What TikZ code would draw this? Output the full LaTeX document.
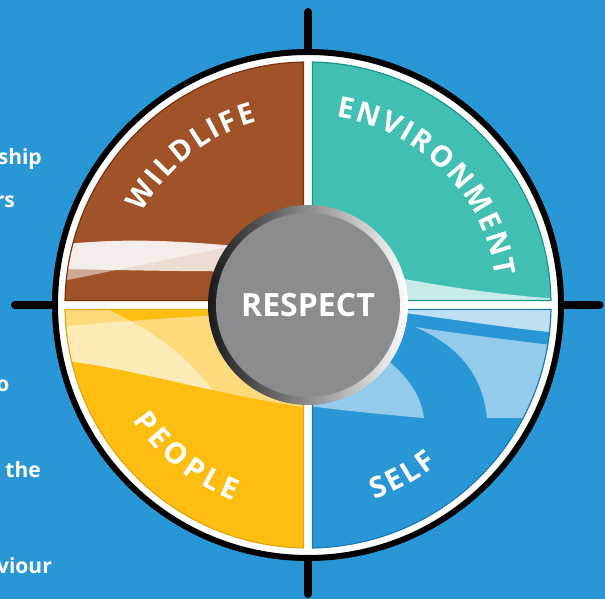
\documentclass[tikz,border=0pt]{standalone}
\usepackage{fontspec}
\setmainfont{Open Sans}
\usetikzlibrary{decorations.text}
\definecolor{bgblue}{RGB}{41,151,213}
\definecolor{wildbrown}{RGB}{160,82,40}
\definecolor{wildedge}{RGB}{120,50,15}
\definecolor{envteal}{RGB}{66,191,179}
\definecolor{envedge}{RGB}{22,150,136}
\definecolor{peopleyellow}{RGB}{253,190,17}
\definecolor{peopleedge}{RGB}{225,165,20}
\definecolor{selfblue}{RGB}{41,151,213}
\definecolor{selfedge}{RGB}{25,120,182}
\definecolor{hubgray}{RGB}{138,141,144}
\newcommand{\labelfont}{\fontsize{29}{29}\selectfont\bfseries}
\newcommand{\hubfont}{\fontsize{32}{32}\selectfont\bfseries}
\newcommand{\sidefont}{\fontsize{21}{21}\selectfont\bfseries}
\newcommand{\quadshape}{(4.5,4.5) -- (242.96,4.5) arc[start angle=1.061, end angle=88.939, radius=243] -- cycle}

\begin{document}
\begin{tikzpicture}[x=1pt, y=1pt,
    axisline/.style={line width=8pt, line cap=round},
    quadedge/.style={line width=1.2pt},
    streak/.style={fill=white, opacity=#1},
    ringlabel/.style={decorate, decoration={text along path, text align=fit to path, text color=white, text={|\labelfont|#1}}},
    sidetext/.style={text=white, font=\sidefont, anchor=base east, inner sep=0pt}
  ]
  \useasboundingbox (-308,-294) rectangle (297,305);
  \fill[bgblue] (-308,-294) rectangle (297,305);

  % cross
  \coordinate (top) at (0,293);
  \coordinate (bottom) at (0,-289);
  \coordinate (left) at (-293,0);
  \coordinate (right) at (291.5,0);
  \draw[axisline] (top) -- (bottom);
  \draw[axisline] (left) -- (right);

  % rim
  \draw[line width=6pt, fill=white] (0,0) circle (253);

  % quadrants
  \fill[envteal] \quadshape;
  \fill[wildbrown, rotate=90] \quadshape;
  \fill[peopleyellow, rotate=180] \quadshape;
  \fill[selfblue, rotate=270] \quadshape;

  % wildlife streaks
  \begin{scope}
    \clip[rotate=90] \quadshape;
    \fill[streak=.8] (-250,60) .. controls (-180,68) and (-120,64) .. (-40,56) -- (-40,34) .. controls (-120,33) and (-180,35) .. (-250,36) -- cycle;
    \fill[streak=.5] (-250,23) -- (-80,58) .. controls (-130,64) and (-190,67) .. (-250,60) -- cycle;
  \end{scope}

  % environment streak
  \begin{scope}
    \clip \quadshape;
    \fill[streak=.7] (60,33) .. controls (110,23) and (170,12) .. (250,6) -- (250,0) -- (60,0) -- cycle;
  \end{scope}

  % people streaks
  \begin{scope}
    \clip[rotate=180] \quadshape;
    \fill[streak=.45] (-250,-22) .. controls (-180,-16) and (-120,-11) .. (-40,-8) -- (0,-8) -- (0,-103) .. controls (-100,-88) and (-180,-62) .. (-250,-55) -- cycle;
    \begin{scope}
      \clip (-260,0) -- (0,0) -- (0,-103) .. controls (-100,-88) and (-180,-62) .. (-250,-55) -- (-260,-55) -- cycle;
      \fill[streak=.45] (-260,0) -- (-210,0) .. controls (-158,-23) and (-113,-54) .. (-86,-100) -- (-260,-100) -- cycle;
    \end{scope}
  \end{scope}

  % self streaks
  \begin{scope}
    \clip[rotate=270] \quadshape;
    \fill[streak=.7] (60,0) -- (260,0) -- (260,-29) .. controls (190,-22) and (130,-12) .. (60,-3) -- cycle;
    \fill[streak=.5] (107,-22) .. controls (160,-30) and (210,-36) .. (260,-42) -- (260,-113) -- (179,-113) .. controls (175,-70) and (150,-40) .. (107,-22) -- cycle;
    \fill[streak=.5] (0,-101) .. controls (40,-106) and (80,-110) .. (116,-113) .. controls (112,-85) and (95,-65) .. (60,-40) -- (0,-40) -- cycle;
  \end{scope}

  \draw[quadedge, envedge] \quadshape;
  \draw[quadedge, wildedge, rotate=90] \quadshape;
  \draw[quadedge, peopleedge, rotate=180] \quadshape;
  \draw[quadedge, selfedge, rotate=270] \quadshape;

  % hub
  \node[circle, minimum size=200pt, inner sep=0pt, left color=black!90, right color=white] (hubring) at (0,0) {};
  \node[circle, minimum size=184pt, inner sep=0pt, fill=hubgray, text=white, font=\hubfont] (respect) at (0,0) {RESPECT};

  % ring labels
  \path[ringlabel=WILDLIFE] (151:190) arc[start angle=151, end angle=105.6, radius=190];
  \path[ringlabel=ENVIRONMENT] (81.4:190) arc[start angle=81.4, end angle=8.6, radius=190];
  \path[ringlabel=PEOPLE] (213.3:209.5) arc[start angle=213.3, end angle=249.2, radius=209.5];
  \path[ringlabel=SELF] (289:205.5) arc[start angle=289, end angle=308.8, radius=205.5];

  % cut-off side text
  \node[sidetext] (textship) at (-266,140) {ship};
  \node[sidetext] (textrs) at (-293,97) {rs};
  \node[sidetext] (texto) at (-298.5,-87) {o};
  \node[sidetext] (textthe) at (-267,-172) {the};
  \node[sidetext] (textviour) at (-256,-268) {viour};
\end{tikzpicture}
\end{document}
